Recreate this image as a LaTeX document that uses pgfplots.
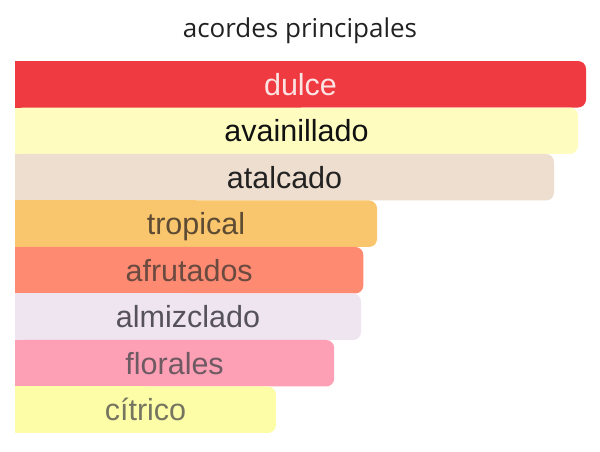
\documentclass[border=0pt]{standalone}
\usepackage{fontspec}
\setmainfont{Liberation Sans}
\newfontfamily\titlefont{Open Sans}
\usepackage{pgfplots}
\pgfplotsset{compat=1.18}

\definecolor{cDulce}{HTML}{EE3A40}
\definecolor{cVain}{HTML}{FFFCC0}
\definecolor{cTalc}{HTML}{EEDECF}
\definecolor{cTrop}{HTML}{F9C66E}
\definecolor{cFrut}{HTML}{FE8A72}
\definecolor{cAlmz}{HTML}{EEE5F0}
\definecolor{cFlor}{HTML}{FDA0B6}
\definecolor{cCitr}{HTML}{FDFDA8}

\definecolor{tDulce}{HTML}{FCE4E4}
\definecolor{tVain}{HTML}{111111}
\definecolor{tTalc}{HTML}{222222}
\definecolor{tTrop}{HTML}{5E4B33}
\definecolor{tFrut}{HTML}{6B4A40}
\definecolor{tAlmz}{HTML}{56525A}
\definecolor{tFlor}{HTML}{6E5A62}
\definecolor{tCitr}{HTML}{767660}

% #1 row, #2 value, #3 fill, #4 text colour, #5 label
\newcommand{\acorde}[5]{%
  \addplot[xbar, bar width=1, bar shift=0pt, draw=none, fill=#3, rounded corners=8bp]
    coordinates {(#2,#1)};
  \addplot[xbar, bar width=1, bar shift=0pt, draw=none, fill=#3]
    table[row sep=\\, x expr=\thisrow{v}/2, y=r] {v r\\ #2 #1\\};
  \addplot[draw=none, mark=none, nodes near coords={#5},
    every node near coord/.append style={anchor=base, yshift=-11bp, text=#4,
      font=\fontsize{30.5bp}{36bp}\selectfont}]
    table[row sep=\\, x expr=\thisrow{v}/2, y=r] {v r\\ #2 #1\\};
}

\begin{document}
\begin{tikzpicture}
\begin{axis}[
    width=600bp, height=452bp, scale only axis,
    hide axis, clip=false,
    xmin=-2.627, xmax=102.45,
    ymin=-1.812, ymax=7.909, y dir=reverse,
    title={acordes principales},
    title style={at={(0.5,0.9159)}, anchor=base, yshift=-5bp, text=black!87,
      font=\titlefont\fontsize{26bp}{31bp}\selectfont},
]
\path (rel axis cs:0,0) rectangle (rel axis cs:1,1);
\acorde{0}{100}{cDulce}{tDulce}{dulce}
\acorde{1}{98.6}{cVain}{tVain}{avainillado}
\acorde{2}{94.4}{cTalc}{tTalc}{atalcado}
\acorde{3}{63.4}{cTrop}{tTrop}{tropical}
\acorde{4}{61.0}{cFrut}{tFrut}{afrutados}
\acorde{5}{60.6}{cAlmz}{tAlmz}{almizclado}
\acorde{6}{55.9}{cFlor}{tFlor}{florales}
\acorde{7}{45.7}{cCitr}{tCitr}{cítrico}
\end{axis}
\end{tikzpicture}
\end{document}
